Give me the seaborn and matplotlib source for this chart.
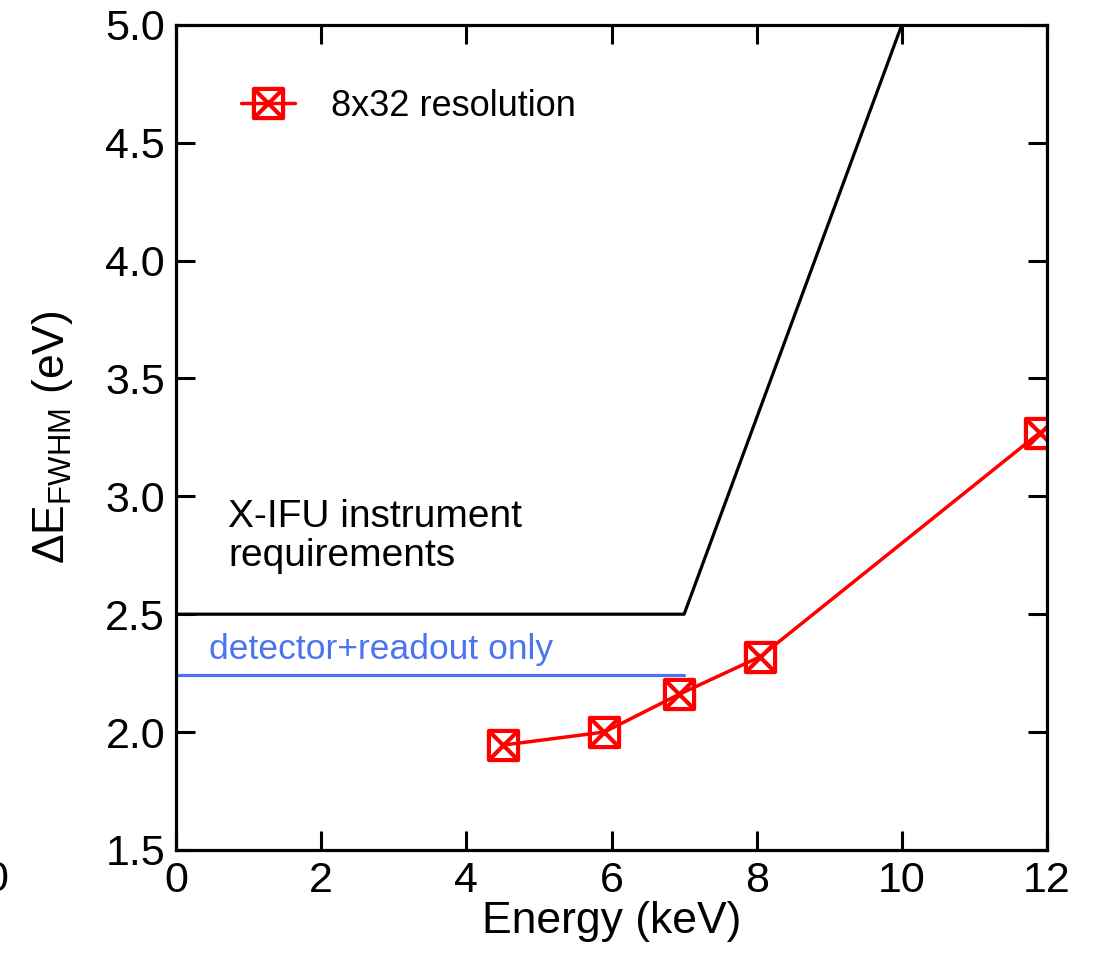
import matplotlib
matplotlib.use("Agg")
import matplotlib.pyplot as plt
from matplotlib.path import Path
import seaborn as sns

# measured resolution, 8x32 array
energy = [4.51, 5.9, 6.93, 8.05, 11.9]
fwhm = [1.945, 2.0, 2.16, 2.32, 3.27]

# instrument requirement curve
req_energy = [0, 7, 10]
req_fwhm = [2.5, 2.5, 5.0]

# detector + readout only level
det_energy = [0, 7]
det_fwhm = [2.24, 2.24]

sns.set_style("ticks")
plt.rcParams["font.family"] = ["Liberation Sans", "DejaVu Sans"]
plt.rcParams["mathtext.fontset"] = "custom"
plt.rcParams["mathtext.rm"] = "Liberation Sans"
plt.rcParams["mathtext.it"] = "Liberation Sans:italic"
plt.rcParams["text.color"] = "black"
plt.rcParams["axes.labelcolor"] = "black"

#square with a cross inside
box_x = Path([(-1, -1), (1, -1), (1, 1), (-1, 1), (-1, -1),
              (-1, -1), (1, 1), (-1, 1), (1, -1)],
             [Path.MOVETO, Path.LINETO, Path.LINETO, Path.LINETO, Path.CLOSEPOLY,
              Path.MOVETO, Path.LINETO, Path.MOVETO, Path.LINETO])

fig = plt.figure(figsize=(10.94, 9.55), dpi=100)
ax = fig.add_axes([0.161, 0.110, 0.796, 0.864])

sns.lineplot(x=req_energy, y=req_fwhm, color="black", linewidth=2.3, ax=ax)
sns.lineplot(x=det_energy, y=det_fwhm, color="#4a74f0", linewidth=2.3, ax=ax)
sns.lineplot(x=energy, y=fwhm, color="red", linewidth=2.5, marker=box_x,
             markersize=21, markerfacecolor="none", markeredgecolor="red",
             markeredgewidth=3.0, label="8x32 resolution", ax=ax)

ax.set_xlim(0, 12)
ax.set_ylim(1.5, 5.0)
ax.set_xticks([0, 2, 4, 6, 8, 10, 12])
ax.set_yticks([1.5, 2.0, 2.5, 3.0, 3.5, 4.0, 4.5, 5.0])
ax.set_yticklabels(["1.5", "2.0", "2.5", "3.0", "3.5", "4.0", "4.5", "5.0"])
ax.tick_params(direction="in", length=14, width=2.2, labelsize=31, pad=8,
               top=True, right=True, colors="black")
for s in ax.spines.values():
    s.set_linewidth(2.3)
    s.set_color("black")

ax.set_xlabel("Energy (keV)", fontsize=32, labelpad=0)
ax.set_ylabel(r"ΔE$_{\rm FWHM}$ (eV)", fontsize=32, labelpad=22)

ax.text(0.72, 2.67, "X-IFU instrument\nrequirements", fontsize=28,
        ha="left", va="bottom", linespacing=1.1)
ax.text(0.45, 2.28, "detector+readout only", fontsize=25.5, color="#4a74f0",
        ha="left", va="bottom")

ax.legend(loc="upper left", bbox_to_anchor=(0.037, 0.962), frameon=False,
          fontsize=26, handlelength=1.5, handletextpad=1.0)

# cut-off label from the neighbouring panel
fig.text(-0.003, 1 - 880 / 955, "0", fontsize=31, ha="center", va="center")

fig.savefig("out.png", dpi=100)
plt.close()
